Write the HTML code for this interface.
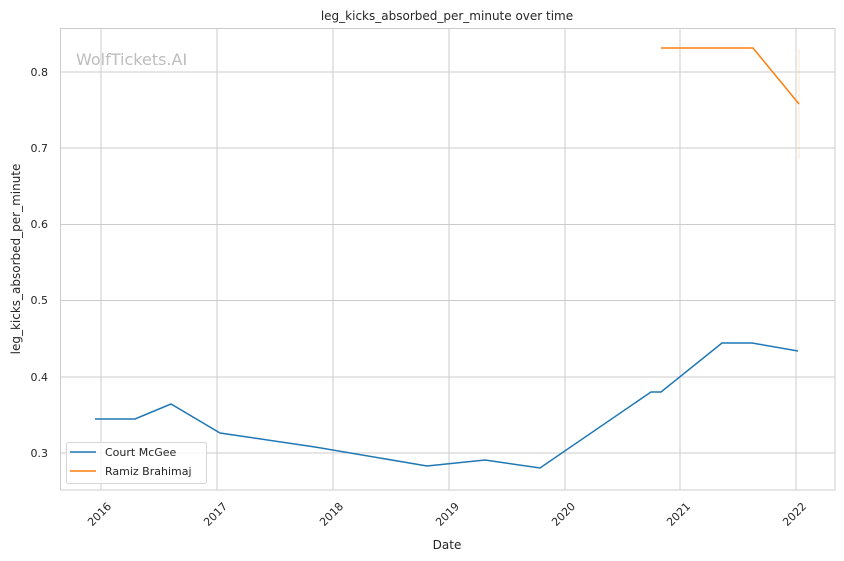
<!DOCTYPE html><html><head><style>body{margin:0;background:#fff}svg{display:block}text{font-family:"DejaVu Sans","Liberation Sans",sans-serif;fill:#262626}</style></head><body>
<svg width="844" height="561" xmlns="http://www.w3.org/2000/svg">
<rect width="844" height="561" fill="#fff"/>
<g stroke="#cccccc" stroke-width="1">
<line x1="101" y1="28" x2="101" y2="490"/><line x1="217" y1="28" x2="217" y2="490"/><line x1="333" y1="28" x2="333" y2="490"/><line x1="449" y1="28" x2="449" y2="490"/><line x1="565" y1="28" x2="565" y2="490"/><line x1="680" y1="28" x2="680" y2="490"/><line x1="796" y1="28" x2="796" y2="490"/>
<line x1="60" y1="72" x2="835" y2="72"/><line x1="60" y1="148" x2="835" y2="148"/><line x1="60" y1="224.5" x2="835" y2="224.5"/><line x1="60" y1="300.5" x2="835" y2="300.5"/><line x1="60" y1="377" x2="835" y2="377"/><line x1="60" y1="453" x2="835" y2="453"/>
</g>
<rect x="60.5" y="28.5" width="774.5" height="461.5" fill="none" stroke="#cccccc"/>
<text x="76" y="65" font-size="16" style="fill:#bdbdbd">WolfTickets.AI</text>
<g font-size="11" text-anchor="end"><text x="48" y="76">0.8</text><text x="48" y="152">0.7</text><text x="48" y="228">0.6</text><text x="48" y="304">0.5</text><text x="48" y="381">0.4</text><text x="48" y="457">0.3</text></g>
<g font-size="11" text-anchor="end">
<text transform="translate(112,507) rotate(-45)">2016</text><text transform="translate(228,507) rotate(-45)">2017</text><text transform="translate(344,507) rotate(-45)">2018</text><text transform="translate(460,507) rotate(-45)">2019</text><text transform="translate(576,507) rotate(-45)">2020</text><text transform="translate(691,507) rotate(-45)">2021</text><text transform="translate(807,507) rotate(-45)">2022</text></g>
<text x="447" y="549" font-size="12" text-anchor="middle">Date</text>
<text transform="translate(20,259) rotate(-90)" font-size="12" text-anchor="middle">leg_kicks_absorbed_per_minute</text>
<text x="447" y="20" font-size="12" text-anchor="middle">leg_kicks_absorbed_per_minute over time</text>
<line x1="799" y1="49" x2="799" y2="159" stroke="#ff7f0e" stroke-opacity="0.2"/>
<polyline fill="none" stroke="#1f77b4" stroke-width="1.5" points="95,419 135,419 171,404 220,433 315,447 427,466 485,460 540,468 651,392 661,392 722,343 752,343 798,351"/>
<polyline fill="none" stroke="#ff7f0e" stroke-width="1.5" points="661,48 753,48 799,104"/>
<rect x="66.5" y="442.5" width="140" height="41" rx="2" fill="#fff" fill-opacity="0.8" stroke="#d6d6d6"/>
<line x1="70" y1="452" x2="96" y2="452" stroke="#1f77b4" stroke-width="1.5"/>
<line x1="70" y1="471" x2="96" y2="471" stroke="#ff7f0e" stroke-width="1.5"/>
<text x="105" y="456" font-size="11">Court McGee</text>
<text x="105" y="475" font-size="11">Ramiz Brahimaj</text>
</svg></body></html>
